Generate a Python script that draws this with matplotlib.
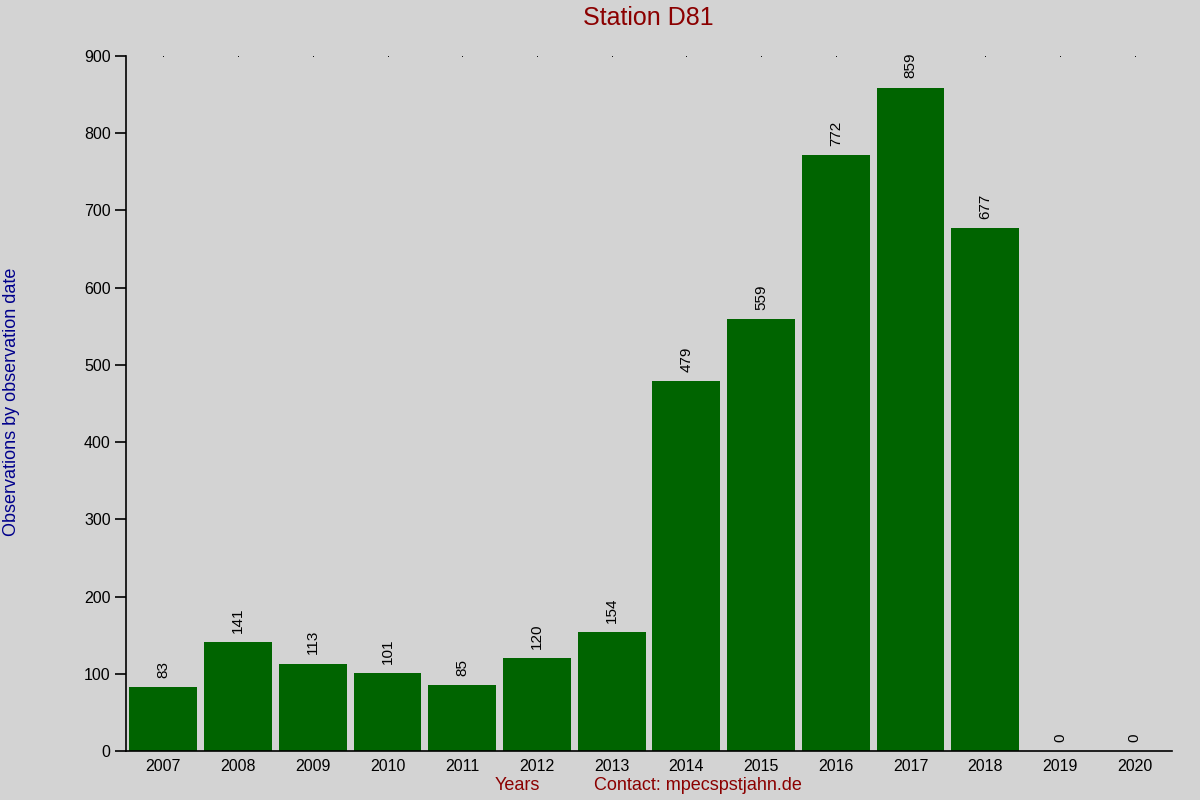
import matplotlib
matplotlib.use("Agg")
import matplotlib.pyplot as plt

plt.rcParams['font.family'] = ['Liberation Sans', 'DejaVu Sans']

years = ["2007", "2008", "2009", "2010", "2011", "2012", "2013",
         "2014", "2015", "2016", "2017", "2018", "2019", "2020"]
counts = [83, 141, 113, 101, 85, 120, 154, 479, 559, 772, 859, 677, 0, 0]
yticks = [0, 100, 200, 300, 400, 500, 600, 700, 800, 900]

bg = "#d3d3d3"
fig = plt.figure(figsize=(12, 8), dpi=100, facecolor=bg)
ax = fig.add_axes([126/1200, 49/800, 1046/1200, 695/800])
ax.set_facecolor(bg)

x = list(range(len(years)))
ax.bar(x, counts, width=0.91, color="#006400")

# little dots along the top (drawn first so labels sit over them)
ax.plot(x, [900] * len(x), linestyle="none", marker="s", markersize=0.6,
        markeredgewidth=0, color="black", clip_on=False, zorder=1)

for xi, v in zip(x, counts):
    ax.text(xi, v + 12, str(v), rotation=90, ha="center", va="bottom",
            fontsize=11, zorder=5,
            bbox=dict(facecolor=bg, edgecolor="none", pad=0.5) if v > 840 else None)

ax.set_xlim(-0.5, 13.5)
ax.set_ylim(0, 900)
ax.set_xticks(x)
ax.set_xticklabels(years, fontsize=11.5)
ax.set_yticks(yticks)
ax.set_yticklabels([str(t) for t in yticks], fontsize=11.5)
ax.tick_params(axis="x", length=0, pad=6)
ax.tick_params(axis="y", length=8, width=1.2, pad=3)

for s in ["top", "right"]:
    ax.spines[s].set_visible(False)
ax.spines["left"].set_linewidth(1.2)
ax.spines["bottom"].set_linewidth(1.2)

fig.text(648/1200, 1 - 18/800, "Station D81", ha="center", va="center",
         fontsize=18, color="#8b0000")
fig.text(12/1200, 1 - 402/800, "Observations by observation date", rotation=90,
         ha="center", va="center", fontsize=13, color="#00008b")
fig.text(517/1200, 1 - 786/800, "Years", ha="center", va="center",
         fontsize=13, color="#8b0000")
fig.text(698/1200, 1 - 786/800, "Contact: mpecspstjahn.de", ha="center", va="center",
         fontsize=13, color="#8b0000")

fig.savefig("out.png", dpi=100, facecolor=bg)
